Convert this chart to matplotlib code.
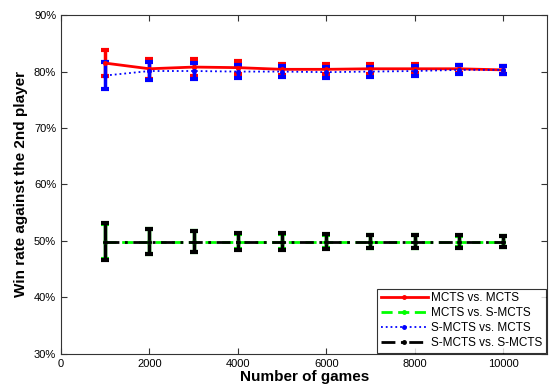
import numpy as np
import matplotlib.pyplot as plt
from matplotlib.lines import Line2D

plt.rcParams['font.family'] = ['Liberation Sans', 'DejaVu Sans']

games = [1000, 2000, 3000, 4000, 5000, 6000, 7000, 8000, 9000, 10000]

# MCTS vs. MCTS
mm = [81.5, 80.5, 80.8, 80.7, 80.4, 80.4, 80.5, 80.5, 80.5, 80.3]
mm_err = [2.3, 1.8, 1.5, 1.1, 1.0, 0.9, 0.9, 0.8, 0.7, 0.7]
# MCTS vs. S-MCTS
ms = [49.9, 49.9, 49.9, 49.9, 49.9, 49.9, 49.9, 49.9, 49.9, 49.9]
ms_err = [3.1, 2.2, 1.8, 1.4, 1.4, 1.2, 1.1, 1.1, 1.0, 0.9]
# S-MCTS vs. MCTS
sm = [79.3, 80.1, 80.1, 80.0, 80.0, 79.9, 80.0, 80.1, 80.3, 80.3]
sm_err = [2.4, 1.6, 1.4, 1.1, 1.0, 1.0, 0.9, 0.9, 0.8, 0.7]
# S-MCTS vs. S-MCTS
ss = [49.9, 49.9, 49.9, 49.9, 49.9, 49.9, 49.9, 49.9, 49.9, 49.9]
ss_err = [3.2, 2.3, 1.9, 1.5, 1.5, 1.3, 1.2, 1.2, 1.1, 1.0]

labels = ['MCTS vs. MCTS', 'MCTS vs. S-MCTS', 'S-MCTS vs. MCTS', 'S-MCTS vs. S-MCTS']

fig = plt.figure(figsize=(5.5, 3.88), dpi=100)
ax = fig.add_axes([0.111, 0.088, 0.884, 0.873])

kw = dict(marker='.', markersize=5, capsize=3, capthick=3, elinewidth=2.5)
styles = [
    dict(color='red', linestyle='-', linewidth=2),
    dict(color='#00ff00', linestyle='--', dashes=(4, 2), linewidth=2),
    dict(color='blue', linestyle=':', linewidth=1.3),
    dict(color='black', linestyle='-.', dashes=(5, 2, 1, 2), linewidth=2),
]
series = [(mm, mm_err), (ms, ms_err), (sm, sm_err), (ss, ss_err)]

handles = []
for (vals, err), st, lab in zip(series, styles, labels):
    ax.errorbar(games, vals, yerr=err, **st, **kw)
    handles.append(Line2D([], [], marker='.', markersize=5, label=lab, **st))

ax.set_xlim(0, 11000)
ax.set_ylim(30, 90)
ax.set_xticks([0, 2000, 4000, 6000, 8000, 10000])
ax.set_yticks([30, 40, 50, 60, 70, 80, 90])
ax.set_yticklabels(['%d%%' % v for v in [30, 40, 50, 60, 70, 80, 90]])
ax.tick_params(direction='in', top=True, right=True, labelsize=8, length=4, colors='#333333',
               labelcolor='black')
for s in ax.spines.values():
    s.set_color('#333333')
    s.set_linewidth(0.8)

ax.set_xlabel('Number of games', fontsize=11, fontweight='bold', labelpad=1)
ax.set_ylabel('Win rate against the 2nd player', fontsize=11, fontweight='bold', labelpad=4)

leg = ax.legend(handles=handles, loc='lower right', fontsize=8.5, frameon=True, fancybox=False,
                handlelength=4, borderaxespad=0.1, labelspacing=0.25, borderpad=0.3,
                handletextpad=0.3)
leg.get_frame().set_edgecolor('black')
leg.get_frame().set_linewidth(0.8)

fig.savefig('out.png', dpi=100)
